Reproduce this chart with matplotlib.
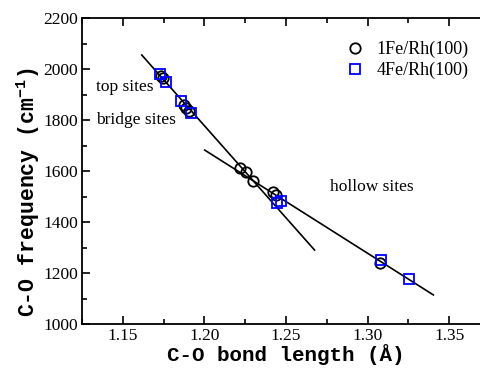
import matplotlib
matplotlib.use("Agg")
import matplotlib.pyplot as plt
from matplotlib.ticker import MultipleLocator

# ----------------------------
# Data
# ----------------------------
fe1_len = [1.1733, 1.1747, 1.1873, 1.1890, 1.1906, 1.2216, 1.2257, 1.2298, 1.2420, 1.2441, 1.3077]
fe1_freq = [1973, 1964, 1859, 1846, 1836, 1611, 1596, 1561, 1519, 1506, 1238]

fe4_len = [1.1726, 1.1767, 1.1859, 1.1920, 1.2447, 1.2471, 1.3083, 1.3256]
fe4_freq = [1982, 1950, 1874, 1826, 1475, 1484, 1252, 1178]

# fitted lines (endpoints)
fit_top_x = [1.1616, 1.2675]
fit_top_y = [2055, 1290]
fit_hollow_x = [1.2002, 1.3403]
fit_hollow_y = [1682, 1114]

# ----------------------------
# Style
# ----------------------------
plt.rcParams["mathtext.fontset"] = "custom"
plt.rcParams["mathtext.rm"] = "Liberation Mono:bold"
plt.rcParams["mathtext.bf"] = "Liberation Mono:bold"
serif = "Liberation Serif"
mono = "Liberation Mono"

fig = plt.figure(figsize=(4.8, 3.69), dpi=100)
ax = fig.add_axes([82 / 480, 1 - 324 / 369, 408 / 480, 306 / 369])

ax.plot(fit_top_x, fit_top_y, color="black", linewidth=1.2)
ax.plot(fit_hollow_x, fit_hollow_y, color="black", linewidth=1.2)

ax.plot(fe1_len, fe1_freq, linestyle="none", marker="o", markersize=7.5,
        markerfacecolor="none", markeredgecolor="black", markeredgewidth=1.3,
        label="1Fe/Rh(100)")
ax.plot(fe4_len, fe4_freq, linestyle="none", marker="s", markersize=6.5,
        markerfacecolor="none", markeredgecolor="#0000ff", markeredgewidth=1.3,
        label="4Fe/Rh(100)")

ax.text(1.1335, 1929, "top sites", family=serif, fontsize=12.5, va="center")
ax.text(1.1335, 1800, "bridge sites", family=serif, fontsize=12.5, va="center")
ax.text(1.2767, 1537, "hollow sites", family=serif, fontsize=12.5, va="center")

ax.set_xlim(1.125, 1.375)
ax.set_ylim(1000, 2200)
ax.xaxis.set_major_locator(MultipleLocator(0.05))
ax.xaxis.set_minor_locator(MultipleLocator(0.025))
ax.yaxis.set_major_locator(MultipleLocator(200))
ax.yaxis.set_minor_locator(MultipleLocator(100))
ax.set_xticks([1.15, 1.20, 1.25, 1.30, 1.35])
ax.set_xticklabels(["1.15", "1.20", "1.25", "1.30", "1.35"])

ax.tick_params(which="both", direction="in", top=True, right=True,
               labelsize=12.5, width=1.2, pad=3)
ax.tick_params(which="major", length=6)
ax.tick_params(which="minor", length=3.5)
for lbl in ax.get_xticklabels() + ax.get_yticklabels():
    lbl.set_family(serif)
for sp in ax.spines.values():
    sp.set_linewidth(1.3)

ax.set_xlabel("C-O bond length (Å)", family=mono, fontweight="bold",
              fontsize=15, labelpad=0)
ax.set_ylabel(r"C-O frequency (cm$^{-1}$)", family=mono, fontweight="bold",
              fontsize=15.5)
ax.yaxis.set_label_coords(-0.098, 0.43)

leg = ax.legend(loc="upper left", bbox_to_anchor=(0.603, 0.978), frameon=False,
                prop={"family": serif, "size": 13}, handletextpad=0.6,
                labelspacing=0.2, handlelength=1.2)

fig.savefig("out.png", dpi=100)
